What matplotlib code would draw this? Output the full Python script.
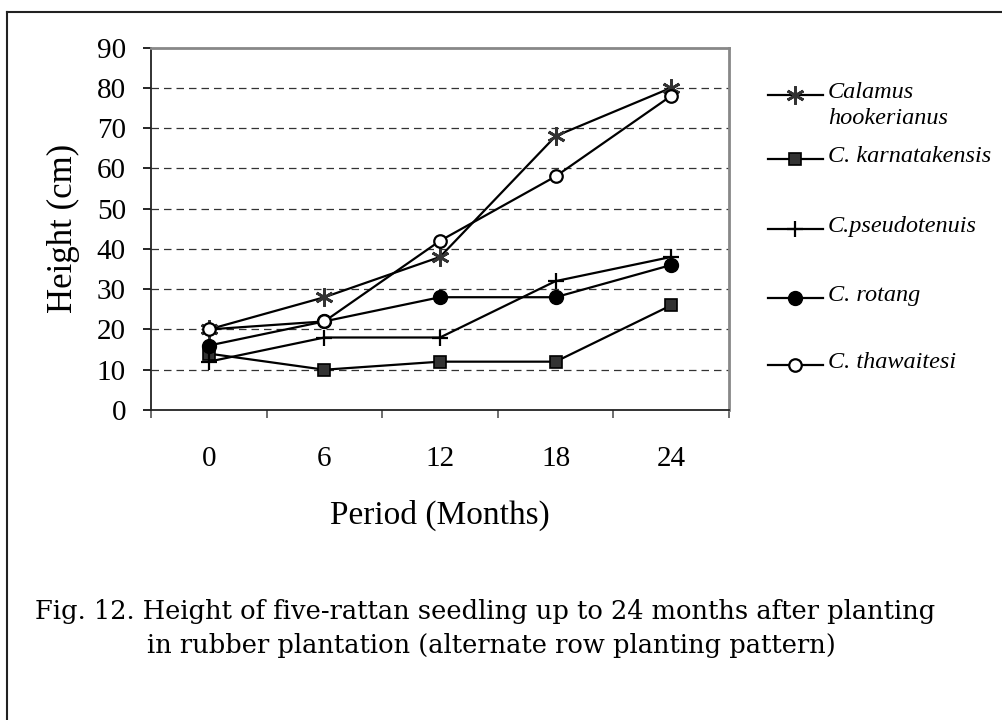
import matplotlib
matplotlib.use("Agg")
import matplotlib.pyplot as plt
from matplotlib.lines import Line2D

periods = ["0", "6", "12", "18", "24"]
species = ["Calamus\nhookerianus", "C. karnatakensis", "C.pseudotenuis",
           "C. rotang", "C. thawaitesi"]
hookerianus = [20, 28, 38, 68, 80]
karnatakensis = [14, 10, 12, 12, 26]
pseudotenuis = [12, 18, 18, 32, 38]
rotang = [16, 22, 28, 28, 36]
thawaitesi = [20, 22, 42, 58, 78]
y_ticks = [0, 10, 20, 30, 40, 50, 60, 70, 80, 90]
caption_lines = ["Fig. 12. Height of five-rattan seedling up to 24 months after planting",
                 "in rubber plantation (alternate row planting pattern)"]

W, H = 1003, 720
fig = plt.figure(figsize=(W / 100, H / 100), dpi=100)


def fx(px):
    return px / W


def fy(py):
    return 1 - py / H


ax = fig.add_axes([fx(151), fy(410), fx(729) - fx(151), fy(47.5) - fy(410)])

styles = [
    dict(marker=(6, 2, 0), markersize=13, color="black", markeredgecolor="#333333",
         markeredgewidth=2.0),
    dict(marker="s", markersize=9, color="black", markerfacecolor="#333333",
         markeredgecolor="black", markeredgewidth=1.2),
    dict(marker="+", markersize=12, color="black", markeredgewidth=1.6),
    dict(marker="o", markersize=10, color="black", markerfacecolor="black"),
    dict(marker="o", markersize=9, color="black", markerfacecolor="white",
         markeredgewidth=1.6),
]
series = [hookerianus, karnatakensis, pseudotenuis, rotang, thawaitesi]
x = list(range(len(periods)))
for vals, st in zip(series, styles):
    ax.plot(x, vals, linewidth=1.6, zorder=3, clip_on=False, **st)

for v in y_ticks[1:-1]:
    ax.axhline(v, color="#333333", linewidth=0.9, linestyle=(0, (6, 4)), zorder=1)

ax.set_xlim(-0.5, len(periods) - 0.5)
ax.set_ylim(0, 90)
ax.set_yticks(y_ticks)
ax.set_xticks([i - 0.5 for i in range(len(periods) + 1)])
ax.set_xticklabels([])
ax.set_xticks(x, minor=True)
ax.set_xticklabels(periods, minor=True)

for lab in ax.get_yticklabels() + ax.get_xticklabels(minor=True):
    lab.set_fontfamily("Liberation Serif")
    lab.set_fontsize(21)

ax.tick_params(axis="y", direction="out", length=6, width=1.2, pad=12)
ax.tick_params(axis="x", which="major", direction="out", length=6, width=1.2,
               color="#555555")
ax.tick_params(axis="x", which="minor", length=0, pad=26)

for side in ["left", "bottom"]:
    ax.spines[side].set_color("#222222")
    ax.spines[side].set_linewidth(1.3)
for side in ["top", "right"]:
    ax.spines[side].set_color("#888888")
    ax.spines[side].set_linewidth(2)

ax.set_ylabel("Height (cm)", family="Liberation Serif", size=25, labelpad=12)
ax.set_xlabel("Period (Months)", family="Liberation Serif", size=24, labelpad=20)

# legend drawn by hand so the two-line label keeps its marker on the first line
legend_y = [95, 159, 229, 298, 365]
for lab, st, ly in zip(species, styles, legend_y):
    fig.add_artist(Line2D([fx(768), fx(823)], [fy(ly), fy(ly)], color="black",
                          linewidth=1.6, transform=fig.transFigure))
    mk = {k: v for k, v in st.items() if k != "color"}
    fig.add_artist(Line2D([fx(795)], [fy(ly)], linestyle="none", color="black",
                          transform=fig.transFigure, **mk))
    fig.text(fx(828), fy(ly - 13), lab, ha="left", va="top", family="Liberation Serif",
             style="italic", size=17.5, linespacing=1.3)

fig.text(fx(35), fy(612), caption_lines[0], ha="left", va="center",
         family="DejaVu Serif", size=18.5)
fig.text(fx(147), fy(646), caption_lines[1], ha="left", va="center",
         family="DejaVu Serif", size=18.5)

# outer frame (left and top edges visible)
fig.add_artist(Line2D([fx(7), fx(7)], [fy(12), 0], color="#222222", linewidth=1.5,
                      transform=fig.transFigure))
fig.add_artist(Line2D([fx(7), 1], [fy(12), fy(12)], color="#222222", linewidth=1.5,
                      transform=fig.transFigure))

fig.savefig("out.png", dpi=100)
